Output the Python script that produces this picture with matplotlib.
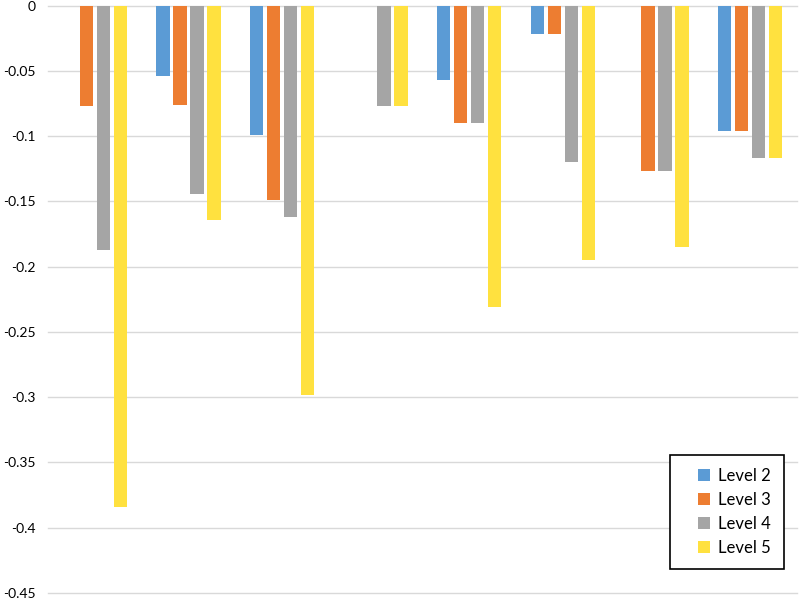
import numpy as np
import matplotlib
matplotlib.use("Agg")
from matplotlib import pyplot as plt
from matplotlib.patches import Rectangle
from matplotlib.container import BarContainer
from matplotlib.legend_handler import HandlerPatch

plt.rcParams['font.family'] = ['Lato', 'DejaVu Sans']

groups = ['1', '2', '3', '4', '5', '6', '7', '8']
series = ['Level 2', 'Level 3', 'Level 4', 'Level 5']
level2 = [0, -0.054, -0.099, 0, -0.057, -0.022, 0, -0.096]
level3 = [-0.077, -0.076, -0.149, 0, -0.090, -0.022, -0.127, -0.096]
level4 = [-0.187, -0.144, -0.162, -0.077, -0.090, -0.120, -0.127, -0.117]
level5 = [-0.384, -0.164, -0.298, -0.077, -0.231, -0.195, -0.185, -0.117]
values = [level2, level3, level4, level5]
colors = ['#5B9BD5', '#ED7D31', '#A5A5A5', '#FFE13F']
yticks = [0, -0.05, -0.1, -0.15, -0.2, -0.25, -0.3, -0.35, -0.4, -0.45]
ytick_labels = ['0', '-0.05', '-0.1', '-0.15', '-0.2', '-0.25', '-0.3', '-0.35', '-0.4', '-0.45']


def square_patch(legend, orig_handle, xdescent, ydescent, width, height, fontsize):
    # small square pushed to the right end of the handle box
    s = 8.6
    return Rectangle((width - s - xdescent, -ydescent + (height - s) / 2), s, s)


def first_child(legend_handle, orig_handle):
    legend_handle.update_from(orig_handle.patches[0])


fig = plt.figure(figsize=(8, 6.01), dpi=100)
ax = fig.add_axes([0.06, 0.0133, 0.936, 0.9772])

x = np.arange(len(groups))
step = 0.182
width = 0.144
for k in range(len(series)):
    ax.bar(x + (k - 1.5) * step, values[k], width=width, color=colors[k],
           label=series[k], zorder=3)

ax.set_xlim(-0.5, len(groups) - 0.5)
ax.set_ylim(-0.45, 0)
ax.set_yticks(yticks)
ax.set_yticklabels(ytick_labels, fontsize=10)
ax.set_xticks([])
ax.grid(axis='y', color='#D9D9D9', linewidth=1, zorder=0)
for gl in ax.get_ygridlines():
    gl.set_clip_on(False)
for s in ax.spines.values():
    s.set_visible(False)
ax.tick_params(axis='y', length=0, pad=9)

handler = HandlerPatch(patch_func=square_patch, update_func=first_child)
leg = ax.legend(loc='lower right', bbox_to_anchor=(0.983, 0.041), fontsize=12,
                frameon=True, fancybox=False, edgecolor='black', framealpha=1,
                handlelength=1.6, handleheight=0.72, handletextpad=0.5,
                borderpad=0.78, labelspacing=0.48, borderaxespad=0,
                handler_map={BarContainer: handler})
leg.get_frame().set_linewidth(1.2)

fig.savefig('out.png', dpi=100)
